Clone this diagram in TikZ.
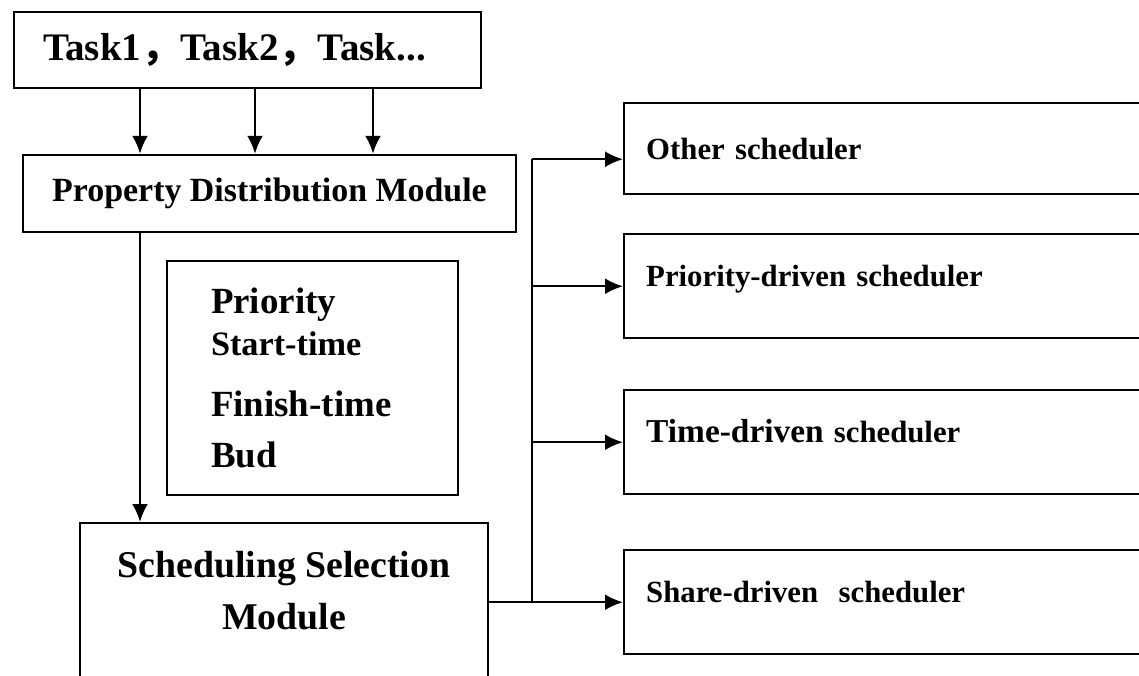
\documentclass[tikz,border=0pt]{standalone}
\usepackage{fontspec}
\setmainfont{Liberation Serif}
\newfontfamily\cjk{Noto Sans CJK SC}
\usetikzlibrary{arrows.meta}

\begin{document}
\begin{tikzpicture}[
    box/.style={draw, line width=1.4pt, font=\bfseries},
    sched/.style={box, anchor=north west, minimum width=11cm, text width=10.12cm, align=left,
      inner xsep=0.44cm, inner ysep=0pt, text height=1.04cm, text depth=1.04cm,
      font=\bfseries\fontsize{17.5}{20}\selectfont},
    arr/.style={-{Latex[length=3.6mm,width=3.2mm]}, line width=1.4pt}]
      \useasboundingbox (0,0) rectangle (22.78,-13.52);
      \clip (0,0) rectangle (22.78,-13.52);

      \node[box, minimum width=9.34cm, minimum height=1.52cm, text width=8.18cm, align=left, inner xsep=0.58cm,
        font=\bfseries\fontsize{22.2}{24}\selectfont] (tasks) at (4.95,-1.0) {Task1{\cjk，}Task2{\cjk，}Task...};
      \node[box, minimum width=9.86cm, minimum height=1.54cm,
        font=\bfseries\fontsize{19.3}{22}\selectfont] (pdm) at (5.39,-3.87) {Property Distribution Module};
      \foreach \x/\n in {2.8/a,5.1/b,7.46/c} {
        \coordinate (col\n) at (\x,0);
        \draw[arr] (tasks.south -| col\n) -- (pdm.north -| col\n);
      }

      % attributes handed over by the distribution module
      \node[box, minimum width=5.82cm, minimum height=4.68cm, text width=4.06cm, align=left, inner xsep=0.88cm,
        font=\bfseries\fontsize{21}{24}\selectfont] (attrs) at (6.25,-7.56)
        {Priority\\{\fontsize{19.5}{24}\selectfont Start-time}\\[11pt]Finish-time\\[5pt]Bud};

      \node[box, anchor=north, minimum width=8.16cm, inner ysep=0.57cm, text depth=1.6cm, align=center,
        font=\bfseries\fontsize{21.5}{29.5}\selectfont] (ssm) at (5.68,-10.44) {Scheduling Selection\\Module};
      \draw[arr] (pdm.south -| cola) -- (ssm.north -| cola);

      \node[sched, text height=1.12cm, text depth=0.7cm] (other) at (12.46,-2.04) {Other scheduler};
      \node[sched] (prio) at (12.46,-4.66) {Priority-driven scheduler};
      \node[sched] (time) at (12.46,-7.78) {{\fontsize{19}{20}\selectfont Time-driven} scheduler};
      \node[sched] (share) at (12.46,-10.98) {Share-driven\ \ scheduler};

      \coordinate (bus) at (10.64,0);
      \draw[line width=1.4pt] (bus |- other.base west) -- (bus |- share.base west);
      \foreach \n in {other,prio,time}
        \draw[arr] (bus |- \n.base west) -- (\n.base west);
      \draw[arr] (ssm.east |- share.base west) -- (share.base west);
    \end{tikzpicture}
\end{document}
